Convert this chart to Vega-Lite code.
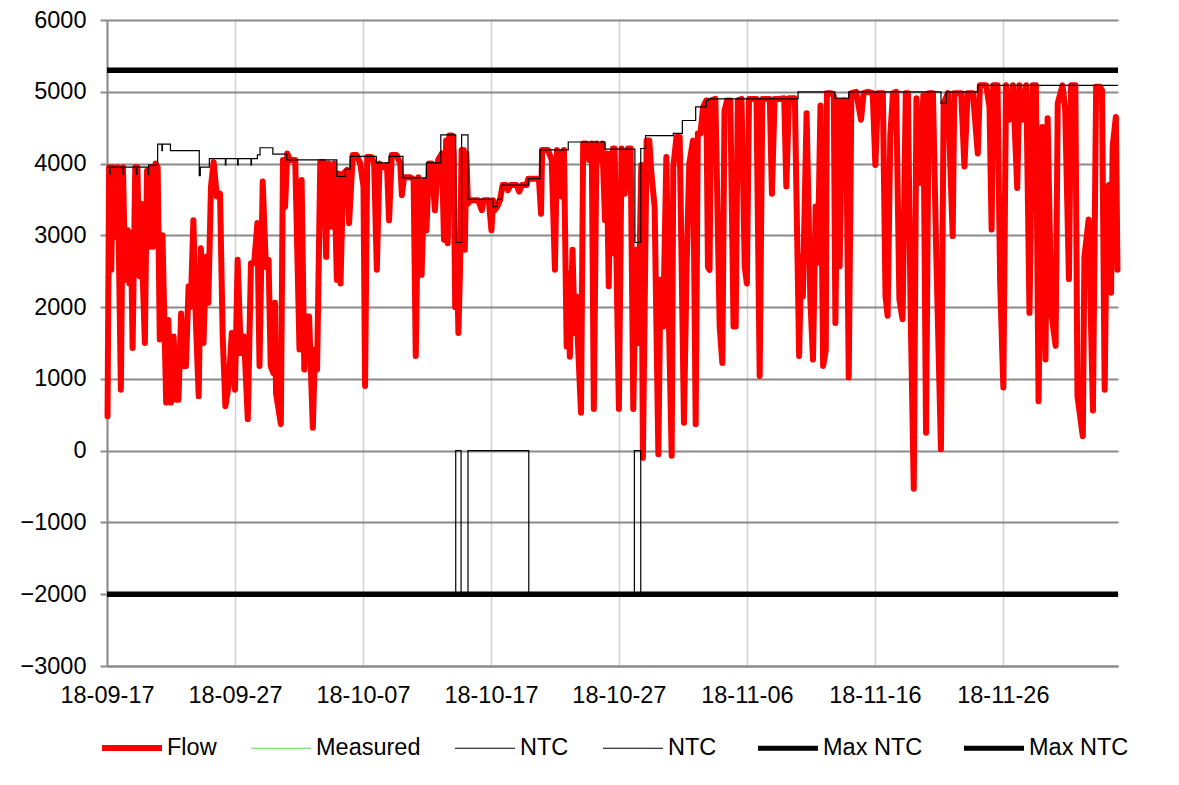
{
  "$schema": "https://vega.github.io/schema/vega-lite/v6.json",
  "autosize": "none",
  "padding": {"left": 107, "top": 20, "right": 61, "bottom": 119},
  "width": 1011,
  "height": 646,
  "background": "white",
  "config": {
    "view": {"stroke": null},
    "font": "Liberation Sans"
  },
  "datasets": {
    "flow": [
      {"t":"2018-09-17T01:00","v":480},{"t":"2018-09-17T04:00","v":3950},{"t":"2018-09-17T08:00","v":2520},{"t":"2018-09-17T11:00","v":3950},{"t":"2018-09-17T16:00","v":2980},{"t":"2018-09-17T20:00","v":3950},
      {"t":"2018-09-18T02:00","v":850},{"t":"2018-09-18T06:00","v":3950},{"t":"2018-09-18T10:00","v":2380},{"t":"2018-09-18T15:00","v":3070},{"t":"2018-09-18T18:00","v":2330},{"t":"2018-09-18T21:00","v":3030},
      {"t":"2018-09-19T00:00","v":1430},{"t":"2018-09-19T05:00","v":3950},{"t":"2018-09-19T09:00","v":3950},{"t":"2018-09-19T13:00","v":2430},{"t":"2018-09-19T16:00","v":3440},{"t":"2018-09-19T19:00","v":2430},{"t":"2018-09-19T23:00","v":1500},
      {"t":"2018-09-20T03:00","v":3900},{"t":"2018-09-20T07:00","v":2840},{"t":"2018-09-20T11:00","v":3950},{"t":"2018-09-20T14:00","v":2840},{"t":"2018-09-20T19:00","v":4000},{"t":"2018-09-20T23:00","v":3950},
      {"t":"2018-09-21T03:00","v":1550},{"t":"2018-09-21T08:00","v":3000},{"t":"2018-09-21T15:00","v":670},{"t":"2018-09-21T19:00","v":1820},
      {"t":"2018-09-22T00:00","v":670},{"t":"2018-09-22T05:00","v":1590},{"t":"2018-09-22T10:00","v":710},{"t":"2018-09-22T14:00","v":710},{"t":"2018-09-22T19:00","v":1910},{"t":"2018-09-22T23:00","v":1180},
      {"t":"2018-09-23T04:00","v":1180},{"t":"2018-09-23T09:00","v":2290},{"t":"2018-09-23T13:00","v":2000},{"t":"2018-09-23T18:00","v":3210},{"t":"2018-09-23T23:00","v":1730},
      {"t":"2018-09-24T04:00","v":760},{"t":"2018-09-24T08:00","v":2820},{"t":"2018-09-24T13:00","v":1500},{"t":"2018-09-24T18:00","v":2700},{"t":"2018-09-24T22:00","v":2060},
      {"t":"2018-09-25T03:00","v":3680},{"t":"2018-09-25T08:00","v":4020},{"t":"2018-09-25T14:00","v":3540},{"t":"2018-09-25T20:00","v":3580},
      {"t":"2018-09-26T01:00","v":1590},{"t":"2018-09-26T06:00","v":620},{"t":"2018-09-26T12:00","v":900},{"t":"2018-09-26T18:00","v":1640},
      {"t":"2018-09-27T00:00","v":850},{"t":"2018-09-27T05:00","v":2660},{"t":"2018-09-27T11:00","v":1360},{"t":"2018-09-27T17:00","v":1590},
      {"t":"2018-09-28T00:00","v":440},{"t":"2018-09-28T06:00","v":2610},{"t":"2018-09-28T12:00","v":2610},{"t":"2018-09-28T18:00","v":3170},{"t":"2018-09-28T22:00","v":1180},
      {"t":"2018-09-29T04:00","v":3750},{"t":"2018-09-29T10:00","v":2560},{"t":"2018-09-29T15:00","v":2660},{"t":"2018-09-29T19:00","v":1180},
      {"t":"2018-09-30T00:00","v":1080},{"t":"2018-09-30T03:00","v":2060},{"t":"2018-09-30T05:00","v":800},{"t":"2018-09-30T14:00","v":370},{"t":"2018-09-30T18:00","v":4050},{"t":"2018-09-30T22:00","v":3400},
      {"t":"2018-10-01T02:00","v":4140},{"t":"2018-10-01T07:00","v":4050},{"t":"2018-10-01T17:00","v":4050},
      {"t":"2018-10-02T01:00","v":1410},{"t":"2018-10-02T05:00","v":3770},{"t":"2018-10-02T10:00","v":1130},{"t":"2018-10-02T15:00","v":1870},{"t":"2018-10-02T19:00","v":1870},
      {"t":"2018-10-03T02:00","v":320},{"t":"2018-10-03T06:00","v":1410},{"t":"2018-10-03T10:00","v":1130},{"t":"2018-10-03T16:00","v":4020},{"t":"2018-10-03T22:00","v":4020},
      {"t":"2018-10-04T03:00","v":2700},{"t":"2018-10-04T07:00","v":4000},{"t":"2018-10-04T13:00","v":3120},{"t":"2018-10-04T18:00","v":4000},{"t":"2018-10-04T23:00","v":2380},
      {"t":"2018-10-05T02:00","v":3860},{"t":"2018-10-05T06:00","v":2330},{"t":"2018-10-05T11:00","v":3860},{"t":"2018-10-05T18:00","v":3910},{"t":"2018-10-05T22:00","v":3170},
      {"t":"2018-10-06T05:00","v":4120},{"t":"2018-10-06T12:00","v":4120},{"t":"2018-10-06T19:00","v":4000},
      {"t":"2018-10-07T01:00","v":3680},{"t":"2018-10-07T04:00","v":900},{"t":"2018-10-07T08:00","v":4090},{"t":"2018-10-07T16:00","v":4090},{"t":"2018-10-07T21:00","v":4000},
      {"t":"2018-10-08T02:00","v":2520},{"t":"2018-10-08T07:00","v":4000},{"t":"2018-10-08T14:00","v":3950},{"t":"2018-10-08T21:00","v":3980},
      {"t":"2018-10-09T01:00","v":3210},{"t":"2018-10-09T06:00","v":4120},{"t":"2018-10-09T15:00","v":4120},{"t":"2018-10-09T22:00","v":4000},
      {"t":"2018-10-10T01:00","v":3560},{"t":"2018-10-10T05:00","v":3810},{"t":"2018-10-10T16:00","v":3810},{"t":"2018-10-10T23:00","v":3780},
      {"t":"2018-10-11T03:00","v":1320},{"t":"2018-10-11T08:00","v":3810},{"t":"2018-10-11T14:00","v":2450},{"t":"2018-10-11T19:00","v":3760},{"t":"2018-10-11T23:00","v":3070},
      {"t":"2018-10-12T04:00","v":4000},{"t":"2018-10-12T09:00","v":4000},{"t":"2018-10-12T15:00","v":3350},{"t":"2018-10-12T21:00","v":4050},
      {"t":"2018-10-13T04:00","v":4140},{"t":"2018-10-13T08:00","v":2940},{"t":"2018-10-13T12:00","v":4320},{"t":"2018-10-13T15:00","v":2890},{"t":"2018-10-13T18:00","v":4390},{"t":"2018-10-13T23:00","v":4390},
      {"t":"2018-10-14T02:00","v":4140},{"t":"2018-10-14T05:00","v":2000},{"t":"2018-10-14T08:00","v":2800},{"t":"2018-10-14T11:00","v":1640},{"t":"2018-10-14T14:00","v":2500},{"t":"2018-10-14T17:00","v":4190},{"t":"2018-10-14T21:00","v":4190},{"t":"2018-10-14T23:00","v":2800},
      {"t":"2018-10-15T02:00","v":4140},{"t":"2018-10-15T05:00","v":3440},{"t":"2018-10-15T09:00","v":3490},{"t":"2018-10-15T21:00","v":3490},
      {"t":"2018-10-16T00:00","v":3490},{"t":"2018-10-16T07:00","v":3350},{"t":"2018-10-16T10:00","v":3490},{"t":"2018-10-16T20:00","v":3490},
      {"t":"2018-10-17T01:00","v":3070},{"t":"2018-10-17T04:00","v":3490},{"t":"2018-10-17T07:00","v":3350},{"t":"2018-10-17T12:00","v":3400},{"t":"2018-10-17T17:00","v":3490},{"t":"2018-10-17T22:00","v":3700},
      {"t":"2018-10-18T05:00","v":3700},{"t":"2018-10-18T08:00","v":3630},{"t":"2018-10-18T13:00","v":3700},
      {"t":"2018-10-19T00:00","v":3700},{"t":"2018-10-19T05:00","v":3610},{"t":"2018-10-19T10:00","v":3700},{"t":"2018-10-19T19:00","v":3700},{"t":"2018-10-19T22:00","v":3790},
      {"t":"2018-10-20T14:00","v":3790},{"t":"2018-10-20T18:00","v":3790},{"t":"2018-10-20T22:00","v":3300},
      {"t":"2018-10-21T00:00","v":4190},{"t":"2018-10-21T11:00","v":4190},{"t":"2018-10-21T18:00","v":4050},
      {"t":"2018-10-22T00:00","v":2520},{"t":"2018-10-22T04:00","v":4190},{"t":"2018-10-22T08:00","v":4140},{"t":"2018-10-22T13:00","v":3540},{"t":"2018-10-22T17:00","v":4190},{"t":"2018-10-22T22:00","v":1450},
      {"t":"2018-10-23T01:00","v":2470},{"t":"2018-10-23T04:00","v":1310},{"t":"2018-10-23T09:00","v":2800},{"t":"2018-10-23T13:00","v":1640},{"t":"2018-10-23T16:00","v":2150},{"t":"2018-10-23T20:00","v":1360},
      {"t":"2018-10-24T01:00","v":530},{"t":"2018-10-24T05:00","v":4280},{"t":"2018-10-24T11:00","v":4280},{"t":"2018-10-24T16:00","v":4050},{"t":"2018-10-24T21:00","v":4280},
      {"t":"2018-10-25T01:00","v":580},{"t":"2018-10-25T06:00","v":4280},{"t":"2018-10-25T12:00","v":4050},{"t":"2018-10-25T17:00","v":4280},{"t":"2018-10-25T22:00","v":3210},
      {"t":"2018-10-26T01:00","v":4140},{"t":"2018-10-26T05:00","v":2290},{"t":"2018-10-26T08:00","v":4140},{"t":"2018-10-26T12:00","v":2750},{"t":"2018-10-26T13:00","v":4210},{"t":"2018-10-26T16:00","v":4210},
      {"t":"2018-10-27T00:00","v":580},{"t":"2018-10-27T05:00","v":4210},{"t":"2018-10-27T11:00","v":3580},{"t":"2018-10-27T17:00","v":4210},{"t":"2018-10-27T22:00","v":4210},
      {"t":"2018-10-28T03:00","v":580},{"t":"2018-10-28T08:00","v":2800},{"t":"2018-10-28T12:00","v":1500},{"t":"2018-10-28T18:00","v":3980},{"t":"2018-10-28T21:00","v":-100},
      {"t":"2018-10-29T04:00","v":4320},{"t":"2018-10-29T09:00","v":4320},{"t":"2018-10-29T13:00","v":3860},{"t":"2018-10-29T19:00","v":3400},
      {"t":"2018-10-30T02:00","v":-50},{"t":"2018-10-30T06:00","v":2380},{"t":"2018-10-30T11:00","v":1730},{"t":"2018-10-30T17:00","v":4090},{"t":"2018-10-30T22:00","v":1730},
      {"t":"2018-10-31T03:00","v":-70},{"t":"2018-10-31T06:00","v":3950},{"t":"2018-10-31T12:00","v":4370},{"t":"2018-10-31T18:00","v":4370},{"t":"2018-10-31T21:00","v":2900},
      {"t":"2018-11-01T02:00","v":390},{"t":"2018-11-01T07:00","v":2560},{"t":"2018-11-01T12:00","v":4000},{"t":"2018-11-01T19:00","v":4320},
      {"t":"2018-11-02T00:00","v":370},{"t":"2018-11-02T04:00","v":4420},{"t":"2018-11-02T09:00","v":4420},{"t":"2018-11-02T14:00","v":4790},{"t":"2018-11-02T20:00","v":4880},{"t":"2018-11-02T23:00","v":2560},
      {"t":"2018-11-03T02:00","v":2520},{"t":"2018-11-03T05:00","v":4880},{"t":"2018-11-03T13:00","v":4900},{"t":"2018-11-03T21:00","v":1730},
      {"t":"2018-11-04T02:00","v":1220},{"t":"2018-11-04T06:00","v":4740},{"t":"2018-11-04T11:00","v":4880},{"t":"2018-11-04T17:00","v":4880},{"t":"2018-11-04T23:00","v":1730},
      {"t":"2018-11-05T03:00","v":1730},{"t":"2018-11-05T07:00","v":4880},{"t":"2018-11-05T14:00","v":4900},{"t":"2018-11-05T20:00","v":2560},
      {"t":"2018-11-06T00:00","v":2330},{"t":"2018-11-06T04:00","v":4900},{"t":"2018-11-06T11:00","v":4900},{"t":"2018-11-06T18:00","v":4900},
      {"t":"2018-11-07T00:00","v":1040},{"t":"2018-11-07T05:00","v":4900},{"t":"2018-11-07T13:00","v":4900},{"t":"2018-11-07T19:00","v":4900},{"t":"2018-11-07T23:00","v":3580},
      {"t":"2018-11-08T04:00","v":4900},{"t":"2018-11-08T13:00","v":4900},{"t":"2018-11-08T22:00","v":4910},
      {"t":"2018-11-09T02:00","v":3680},{"t":"2018-11-09T07:00","v":4910},{"t":"2018-11-09T18:00","v":4910},
      {"t":"2018-11-10T02:00","v":1320},{"t":"2018-11-10T06:00","v":2710},{"t":"2018-11-10T09:00","v":2150},{"t":"2018-11-10T16:00","v":4700},{"t":"2018-11-10T23:00","v":2110},
      {"t":"2018-11-11T04:00","v":1270},{"t":"2018-11-11T09:00","v":3400},{"t":"2018-11-11T13:00","v":2620},{"t":"2018-11-11T18:00","v":4810},{"t":"2018-11-11T23:00","v":1180},
      {"t":"2018-11-12T04:00","v":1400},{"t":"2018-11-12T06:00","v":4980},{"t":"2018-11-12T14:00","v":4980},{"t":"2018-11-12T19:00","v":4940},{"t":"2018-11-12T22:00","v":1780},
      {"t":"2018-11-13T03:00","v":4880},{"t":"2018-11-13T06:00","v":2570},{"t":"2018-11-13T11:00","v":4880},{"t":"2018-11-13T18:00","v":4880},{"t":"2018-11-13T23:00","v":1020},
      {"t":"2018-11-14T04:00","v":4980},{"t":"2018-11-14T13:00","v":5000},{"t":"2018-11-14T22:00","v":4610},
      {"t":"2018-11-15T03:00","v":4980},{"t":"2018-11-15T11:00","v":5000},{"t":"2018-11-15T20:00","v":4980},
      {"t":"2018-11-16T01:00","v":3980},{"t":"2018-11-16T06:00","v":4980},{"t":"2018-11-16T15:00","v":4980},{"t":"2018-11-16T20:00","v":2150},
      {"t":"2018-11-17T00:00","v":1880},{"t":"2018-11-17T05:00","v":4400},{"t":"2018-11-17T10:00","v":4980},{"t":"2018-11-17T16:00","v":5000},{"t":"2018-11-17T22:00","v":2110},
      {"t":"2018-11-18T04:00","v":1830},{"t":"2018-11-18T10:00","v":4980},{"t":"2018-11-18T14:00","v":4980},{"t":"2018-11-18T19:00","v":2000},
      {"t":"2018-11-19T01:00","v":-530},{"t":"2018-11-19T06:00","v":4910},{"t":"2018-11-19T12:00","v":3730},{"t":"2018-11-19T19:00","v":4950},
      {"t":"2018-11-20T00:00","v":250},{"t":"2018-11-20T05:00","v":4980},{"t":"2018-11-20T13:00","v":4980},{"t":"2018-11-20T19:00","v":2800},
      {"t":"2018-11-21T04:00","v":20},{"t":"2018-11-21T09:00","v":4840},{"t":"2018-11-21T17:00","v":4980},
      {"t":"2018-11-22T02:00","v":2990},{"t":"2018-11-22T05:00","v":4980},{"t":"2018-11-22T18:00","v":4980},
      {"t":"2018-11-23T00:00","v":3960},{"t":"2018-11-23T06:00","v":4980},{"t":"2018-11-23T16:00","v":4980},
      {"t":"2018-11-24T01:00","v":4140},{"t":"2018-11-24T05:00","v":5090},{"t":"2018-11-24T17:00","v":5090},{"t":"2018-11-24T23:00","v":4790},
      {"t":"2018-11-25T03:00","v":3080},{"t":"2018-11-25T06:00","v":5090},{"t":"2018-11-25T14:00","v":5090},{"t":"2018-11-25T19:00","v":2340},
      {"t":"2018-11-26T01:00","v":880},{"t":"2018-11-26T06:00","v":5090},{"t":"2018-11-26T12:00","v":4610},{"t":"2018-11-26T19:00","v":5090},
      {"t":"2018-11-27T03:00","v":3660},{"t":"2018-11-27T07:00","v":5090},{"t":"2018-11-27T13:00","v":4610},{"t":"2018-11-27T20:00","v":5090},
      {"t":"2018-11-28T02:00","v":1920},{"t":"2018-11-28T08:00","v":5090},{"t":"2018-11-28T14:00","v":5090},{"t":"2018-11-28T19:00","v":690},
      {"t":"2018-11-29T02:00","v":4510},{"t":"2018-11-29T08:00","v":1270},{"t":"2018-11-29T12:00","v":4630},{"t":"2018-11-29T19:00","v":1920},
      {"t":"2018-11-30T03:00","v":1460},{"t":"2018-11-30T07:00","v":4840},{"t":"2018-11-30T16:00","v":5090},{"t":"2018-11-30T21:00","v":4750},
      {"t":"2018-12-01T04:00","v":2390},{"t":"2018-12-01T08:00","v":5090},{"t":"2018-12-01T16:00","v":5090},{"t":"2018-12-01T20:00","v":760},
      {"t":"2018-12-02T06:00","v":200},{"t":"2018-12-02T09:00","v":2700},{"t":"2018-12-02T17:00","v":3220},
      {"t":"2018-12-03T01:00","v":560},{"t":"2018-12-03T07:00","v":5070},{"t":"2018-12-03T14:00","v":5070},{"t":"2018-12-03T18:00","v":5020},{"t":"2018-12-03T23:00","v":850},
      {"t":"2018-12-04T03:00","v":3360},{"t":"2018-12-04T07:00","v":3700},{"t":"2018-12-04T11:00","v":2200},{"t":"2018-12-04T14:00","v":4240},{"t":"2018-12-04T20:00","v":4650},{"t":"2018-12-04T23:00","v":2520}
    ],
    "ntc": [
      {"s":"NTC","t":"2018-09-17T00:00","v":3950},{"s":"NTC","t":"2018-09-17T05:00","v":3850},{"s":"NTC","t":"2018-09-17T06:00","v":3950},
      {"s":"NTC","t":"2018-09-18T06:00","v":3850},{"s":"NTC","t":"2018-09-18T07:00","v":3950},
      {"s":"NTC","t":"2018-09-19T07:00","v":3850},{"s":"NTC","t":"2018-09-19T08:00","v":3950},
      {"s":"NTC","t":"2018-09-20T05:00","v":3850},{"s":"NTC","t":"2018-09-20T06:00","v":3980},
      {"s":"NTC","t":"2018-09-20T23:00","v":4270},{"s":"NTC","t":"2018-09-21T07:00","v":4180},{"s":"NTC","t":"2018-09-21T08:00","v":4270},
      {"s":"NTC","t":"2018-09-21T23:00","v":4180},
      {"s":"NTC","t":"2018-09-24T05:00","v":3830},{"s":"NTC","t":"2018-09-24T07:00","v":3950},
      {"s":"NTC","t":"2018-09-25T00:00","v":4070},
      {"s":"NTC","t":"2018-09-26T06:00","v":3980},{"s":"NTC","t":"2018-09-26T07:00","v":4070},
      {"s":"NTC","t":"2018-09-27T05:00","v":3980},{"s":"NTC","t":"2018-09-27T06:00","v":4070},
      {"s":"NTC","t":"2018-09-28T06:00","v":3980},{"s":"NTC","t":"2018-09-28T07:00","v":4070},
      {"s":"NTC","t":"2018-09-28T18:00","v":4120},{"s":"NTC","t":"2018-09-28T23:00","v":4220},
      {"s":"NTC","t":"2018-09-29T23:00","v":4130},
      {"s":"NTC","t":"2018-10-01T01:00","v":4050},
      {"s":"NTC","t":"2018-10-04T23:00","v":3820},
      {"s":"NTC","t":"2018-10-05T15:00","v":3920},
      {"s":"NTC","t":"2018-10-06T00:00","v":4100},
      {"s":"NTC","t":"2018-10-08T01:00","v":4010},
      {"s":"NTC","t":"2018-10-09T01:00","v":4100},
      {"s":"NTC","t":"2018-10-10T03:00","v":3800},
      {"s":"NTC","t":"2018-10-11T23:00","v":4010},
      {"s":"NTC","t":"2018-10-13T02:00","v":4400},
      {"s":"NTC","t":"2018-10-14T06:00","v":2900},
      {"s":"NTC","t":"2018-10-14T17:00","v":4400},
      {"s":"NTC","t":"2018-10-15T05:00","v":3500},
      {"s":"NTC","t":"2018-10-17T04:00","v":3400},
      {"s":"NTC","t":"2018-10-17T12:00","v":3500},
      {"s":"NTC","t":"2018-10-17T20:00","v":3700},
      {"s":"NTC","t":"2018-10-19T22:00","v":3790},
      {"s":"NTC","t":"2018-10-20T20:00","v":4190},
      {"s":"NTC","t":"2018-10-23T01:00","v":4300},
      {"s":"NTC","t":"2018-10-25T22:00","v":4200},
      {"s":"NTC","t":"2018-10-28T06:00","v":2900},
      {"s":"NTC","t":"2018-10-28T17:00","v":4210},
      {"s":"NTC","t":"2018-10-29T02:00","v":4390},
      {"s":"NTC","t":"2018-10-31T06:00","v":4420},
      {"s":"NTC","t":"2018-10-31T23:00","v":4600},
      {"s":"NTC","t":"2018-11-02T00:00","v":4790},
      {"s":"NTC","t":"2018-11-02T20:00","v":4880},
      {"s":"NTC","t":"2018-11-03T00:00","v":4900},
      {"s":"NTC","t":"2018-11-10T00:00","v":5000},
      {"s":"NTC","t":"2018-11-12T21:00","v":4910},
      {"s":"NTC","t":"2018-11-13T23:00","v":5000},
      {"s":"NTC","t":"2018-11-21T04:00","v":4840},
      {"s":"NTC","t":"2018-11-21T14:00","v":5000},
      {"s":"NTC","t":"2018-11-24T01:00","v":5090},
      {"s":"NTC","t":"2018-12-05T00:00","v":5090},
      {"s":"NTC ","t":"2018-09-17T00:00","v":-2000},
      {"s":"NTC ","t":"2018-10-14T06:00","v":0},
      {"s":"NTC ","t":"2018-10-14T16:00","v":-2000},
      {"s":"NTC ","t":"2018-10-15T05:00","v":0},
      {"s":"NTC ","t":"2018-10-19T23:00","v":-2000},
      {"s":"NTC ","t":"2018-10-28T05:00","v":0},
      {"s":"NTC ","t":"2018-10-28T17:00","v":-2000},
      {"s":"NTC ","t":"2018-12-05T00:00","v":-2000}
    ],
    "mx": [
      {"s":"Max NTC","t":"2018-09-17T00:00","v":5300},
      {"s":"Max NTC","t":"2018-12-05T00:00","v":5300},
      {"s":"Max NTC ","t":"2018-09-17T00:00","v":-2000},
      {"s":"Max NTC ","t":"2018-12-05T00:00","v":-2000}
    ]
  },
  "encoding": {
    "x": {
      "field": "t", "type": "temporal",
      "scale": {"domain": [{"year": 2018, "month": 9, "date": 17}, {"year": 2018, "month": 12, "date": 5}], "nice": false},
      "axis": {
        "title": null,
        "values": [
          {"year": 2018, "month": 9, "date": 17}, {"year": 2018, "month": 9, "date": 27},
          {"year": 2018, "month": 10, "date": 7}, {"year": 2018, "month": 10, "date": 17},
          {"year": 2018, "month": 10, "date": 27}, {"year": 2018, "month": 11, "date": 6},
          {"year": 2018, "month": 11, "date": 16}, {"year": 2018, "month": 11, "date": 26}
        ],
        "format": "%y-%m-%d",
        "labelFont": "Liberation Sans", "labelFontSize": 23.5, "labelColor": "#000000",
        "labelPadding": 17, "labelOverlap": false, "labelFlush": false,
        "ticks": false,
        "grid": true, "gridColor": "#d2d2d2", "gridWidth": 1.5,
        "domainColor": "#8a8a8a", "domainWidth": 2
      }
    },
    "y": {
      "field": "v", "type": "quantitative",
      "scale": {"domain": [-3000, 6000], "nice": false, "zero": false},
      "axis": {
        "title": null,
        "values": [-3000, -2000, -1000, 0, 1000, 2000, 3000, 4000, 5000, 6000],
        "format": "d",
        "labelFont": "Liberation Sans", "labelFontSize": 23.5, "labelColor": "#000000",
        "labelPadding": 14, "tickSize": 7, "tickColor": "#8a8a8a", "tickWidth": 2,
        "grid": true, "gridColor": "#8a8a8a", "gridWidth": 2,
        "domainColor": "#8a8a8a", "domainWidth": 2
      }
    }
  },
  "layer": [
    {
      "data": {"name": "flow"},
      "mark": {"type": "line", "strokeWidth": 6, "strokeJoin": "round", "strokeCap": "round"},
      "encoding": {
        "color": {
          "datum": "Flow", "type": "nominal",
          "scale": {
            "domain": ["Flow", "Measured", "NTC", "NTC ", "Max NTC", "Max NTC "],
            "range": ["#ff0000", "#55e055", "#000000", "#000000", "#000000", "#000000"]
          },
          "legend": {
            "title": null,
            "orient": "none",
            "legendX": -6,
            "legendY": 697,
            "direction": "horizontal",
            "columns": 6,
            "symbolType": "stroke",
            "symbolSize": 3600,
            "symbolStrokeWidth": 3,
            "columnPadding": 31,
            "labelOffset": 4,
            "labelFont": "Liberation Sans",
            "labelFontSize": 23.5,
            "labelColor": "#000000",
            "labelLimit": 300,
            "encode": {
              "symbols": {
                "update": {
                  "strokeWidth": {"signal": "(datum.value === 'Flow' ? 6 : ((datum.value === 'Max NTC' || datum.value === 'Max NTC ') ? 5 : 1.2))"}
                }
              }
            }
          }
        }
      }
    },
    {
      "data": {"name": "ntc"},
      "mark": {"type": "line", "strokeWidth": 1.2, "interpolate": "step-after"},
      "encoding": {
        "color": {"field": "s", "type": "nominal", "legend": {"title": null}}
      }
    },
    {
      "data": {"name": "mx"},
      "mark": {"type": "line", "strokeWidth": 5.5},
      "encoding": {
        "color": {"field": "s", "type": "nominal", "legend": {"title": null}}
      }
    }
  ]
}
